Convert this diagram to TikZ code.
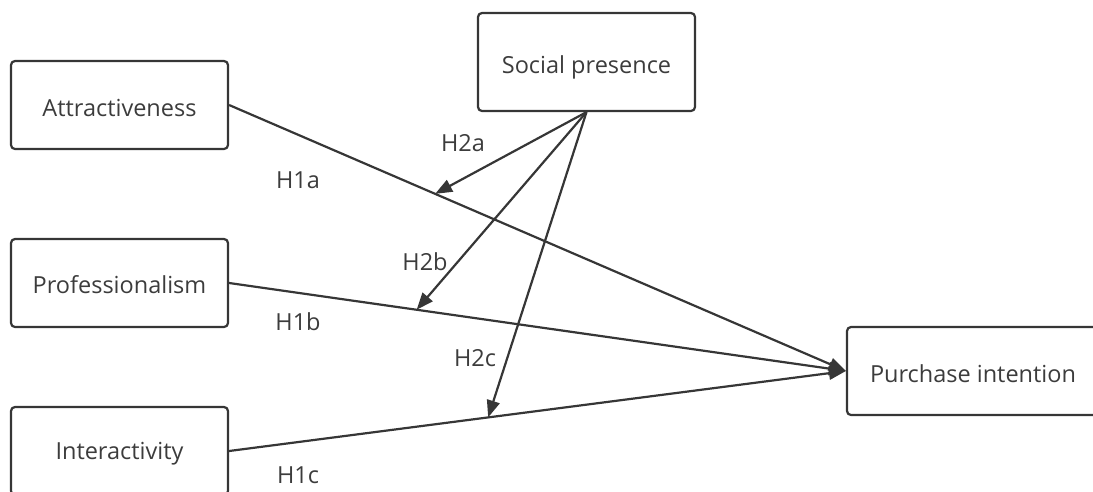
\documentclass[tikz,border=0pt]{standalone}
\usepackage{fontspec}
\setmainfont{Open Sans}
\usetikzlibrary{arrows.meta}
\definecolor{ln}{HTML}{363636}
\definecolor{tx}{HTML}{3C3C3C}
\newcommand{\lowertxt}[2]{\raisebox{-#1}[\height][\depth]{#2}}
\tikzset{
  box/.style={draw=ln, line width=2.2pt, rounded corners=4pt, minimum width=217pt, minimum height=88pt, inner sep=0pt, text=tx, font=\fontsize{23.5}{26}\selectfont},
  conn/.style={draw=ln, line width=2.2pt, -{Triangle[length=17pt,width=13pt]}},
  lab/.style={text=tx, font=\fontsize{23.5}{26}\selectfont, inner sep=0pt}
}
\begin{document}
\begin{tikzpicture}[x=1pt,y=-1pt]
\useasboundingbox (0,0) rectangle (1093,491);
\clip (0,0) rectangle (1093,491);
\node[box] (att) at (119.5,105) {\lowertxt{3pt}{Attractiveness}};
\node[box] (pro) at (119.5,283) {\lowertxt{2pt}{Professionalism}};
\node[box] (int) at (119.5,451) {\lowertxt{3pt}{Interactivity}};
\node[box, minimum height=98pt] (sp) at (586.5,62) {\lowertxt{5pt}{Social presence}};
\node[box, minimum width=252pt] (pi) at (973,371) {\lowertxt{3pt}{Purchase intention}};
\path (att.east) -- (pi.west) coordinate[pos=0.334] (h2a);
\path (pro.east) -- (pi.west) coordinate[pos=0.304] (h2b);
\path (int.east) -- (pi.west) coordinate[pos=0.42] (h2c);
\draw[conn] (att.east) -- (pi.west);
\draw[conn] (pro.east) -- (pi.west);
\draw[conn] (int.east) -- (pi.west);
\draw[conn] (sp.south) -- (h2a);
\draw[conn] (sp.south) -- (h2b);
\draw[conn] (sp.south) -- (h2c);
\node[lab] (l1a) at (298,180) {H1a};
\node[lab] (l1b) at (298,322) {H1b};
\node[lab] (l1c) at (298,475) {H1c};
\node[lab] (l2a) at (463,143) {H2a};
\node[lab] (l2b) at (425,262) {H2b};
\node[lab] (l2c) at (475,358) {H2c};
\end{tikzpicture}
\end{document}
